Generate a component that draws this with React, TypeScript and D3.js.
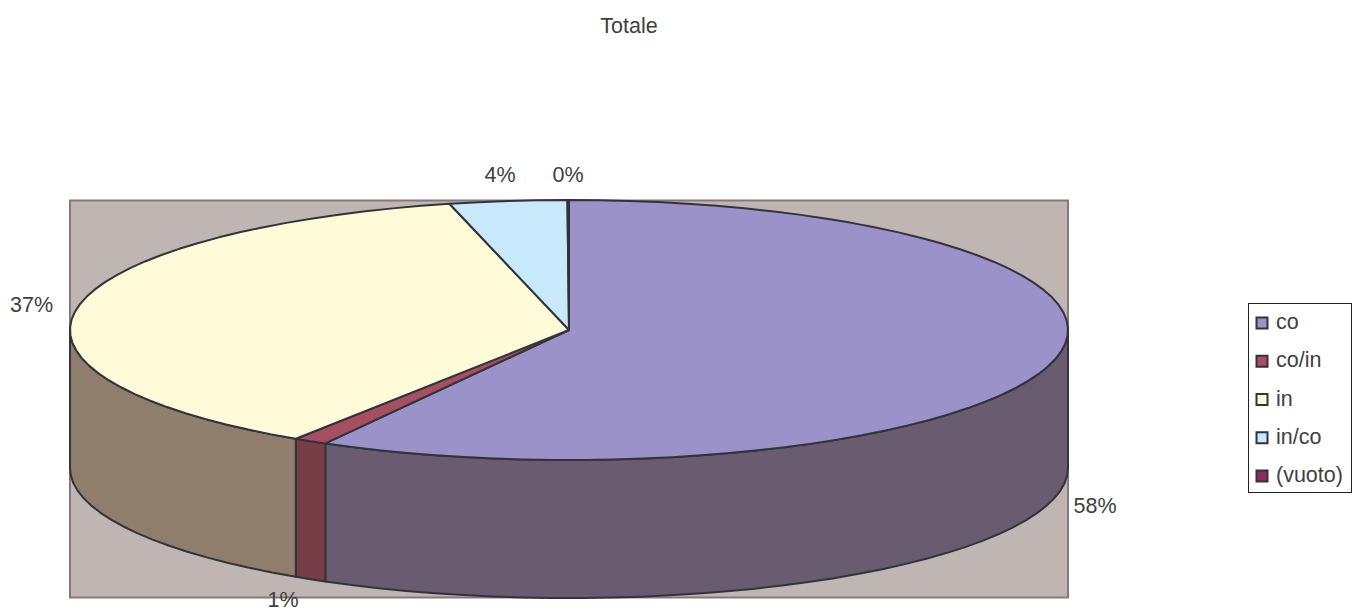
import React from "react";
import * as d3 from "d3";

const categories = ["co", "co/in", "in", "in/co", "(vuoto)"];
const shares = [58.12, 1.1, 36.93, 3.8, 0.05];
const percentLabels = ["58%", "1%", "37%", "4%", "0%"];
const topColors = ["#9A92C8", "#A64E62", "#FFFBD8", "#C7E9FB", "#8A2C5E"];
const sideColors = ["#6A5C70", "#763F48", "#8F7E6B", "#7C8F9B", "#5C2A44"];
const labelAnchors = [
  [1095, 513],
  [283, 607],
  [31.5, 312],
  [500, 182],
  [568, 182],
];

const WIDTH = 1357;
const HEIGHT = 612;
const INK = "#33333B";
const TEXT = "#404040";
const FONT = "'Liberation Sans', Arial, sans-serif";
const FONT_SIZE = 21.5;

// Tilted-disc projection: pie angle (clockwise from twelve o'clock) onto the ellipse.
const cx = 569;
const cy = 330;
const depth = 138;
const xUnit = d3.scaleLinear().domain([-1, 1]).range([cx - 499, cx + 499]);
const yUnit = d3.scaleLinear().domain([-1, 1]).range([cy - 130, cy + 130]);
const rim = (a: number, drop = 0): [number, number] => [
  xUnit(Math.sin(a)),
  yUnit(-Math.cos(a)) + drop,
];

// The rim is a coarse polyline, which gives the disc its faceted edge.
const samples = (a0: number, a1: number) => {
  const n = Math.max(1, Math.ceil(Math.abs(a1 - a0) / 0.06));
  return d3.range(n + 1).map((i) => a0 + ((a1 - a0) * i) / n);
};

const line = d3.line();
const arcs = d3
  .pie<number>()
  .sort(null)
  .value((d) => d)(shares);

const wallPath = (a0: number, a1: number) => {
  const lo = Math.max(a0, Math.PI / 2);
  const hi = Math.min(a1, (3 * Math.PI) / 2);
  if (hi <= lo) return null;
  const top = samples(lo, hi).map((a) => rim(a));
  const bottom = samples(hi, lo).map((a) => rim(a, depth));
  return line([...top, ...bottom]) + "Z";
};

const slicePath = (a0: number, a1: number) =>
  line([[cx, cy], ...samples(a0, a1).map((a) => rim(a))]) + "Z";

const legendRows = d3.scalePoint<string>().domain(categories).range([323, 476]);

export default function App() {
  return (
    <svg
      width={WIDTH}
      height={HEIGHT}
      viewBox={`0 0 ${WIDTH} ${HEIGHT}`}
      style={{ position: "absolute", left: 0, top: 0, background: "#fff" }}
      fontFamily={FONT}
    >
      <text x={629} y={33} fontSize={FONT_SIZE} textAnchor="middle" fill={TEXT}>
        Totale
      </text>

      <rect x={70} y={200.5} width={998} height={397} fill="#BFB5B2" stroke="#85797A" strokeWidth={2} />

      {arcs.map((d, i) => {
        const p = wallPath(d.startAngle, d.endAngle);
        return p ? (
          <path key={categories[i]} d={p} fill={sideColors[i]} stroke={INK} strokeWidth={2} strokeLinejoin="round" />
        ) : null;
      })}
      {arcs.map((d, i) => (
        <path
          key={categories[i]}
          d={slicePath(d.startAngle, d.endAngle)}
          fill={topColors[i]}
          stroke={INK}
          strokeWidth={2}
          strokeLinejoin="round"
        />
      ))}

      {percentLabels.map((label, i) => (
        <text
          key={categories[i]}
          x={labelAnchors[i][0]}
          y={labelAnchors[i][1]}
          fontSize={FONT_SIZE}
          textAnchor="middle"
          fill={TEXT}
        >
          {label}
        </text>
      ))}

      <rect x={1248.5} y={303.5} width={103} height={189} fill="#fff" stroke="#222" strokeWidth={1} />
      {categories.map((name, i) => (
        <g key={name} transform={`translate(0,${legendRows(name)})`}>
          <rect x={1256.5} y={-5.5} width={11} height={11} fill={topColors[i]} stroke={INK} strokeWidth={2} />
          <text x={1276} y={6} fontSize={FONT_SIZE} fill={TEXT}>
            {name}
          </text>
        </g>
      ))}
    </svg>
  );
}
